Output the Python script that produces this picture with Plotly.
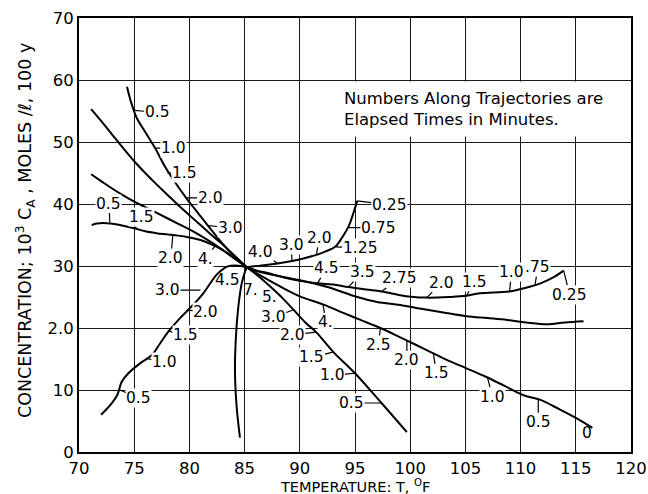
import plotly.graph_objects as go

# Trajectories in the temperature / concentration plane (T in deg F, 10^3 C_A)
traj_1_t = [74.35, 74.7, 75.2, 76.0, 76.9, 77.8, 78.7, 79.7, 80.8, 82.0, 83.3, 84.3, 85.2]
traj_1_c = [58.9, 56.5, 54.0, 51.6, 49.0, 46.0, 43.5, 41.0, 38.5, 35.8, 33.0, 31.2, 29.8]

traj_2_t = [71.1, 72.0, 73.0, 74.0, 75.0, 76.0, 77.0, 78.0, 79.0, 80.0, 81.0, 82.0, 83.0, 84.0, 85.2]
traj_2_c = [55.3, 53.4, 51.2, 49.0, 46.9, 45.0, 43.2, 41.5, 39.8, 38.2, 36.6, 35.0, 33.5, 31.8, 29.8]

traj_3_t = [71.1, 72.0, 73.0, 74.0, 75.0, 76.0, 77.0, 78.0, 79.0, 80.0, 81.0, 82.0, 83.0, 84.0, 85.2]
traj_3_c = [44.8, 43.7, 42.5, 41.4, 40.4, 39.5, 38.6, 37.7, 36.8, 35.9, 34.9, 33.8, 32.6, 31.3, 29.8]

traj_4_t = [71.15, 71.6, 72.2, 73.0, 74.0, 75.0, 76.0, 77.0, 78.0, 79.0, 80.0, 81.0, 82.0, 83.0, 84.0, 85.2]
traj_4_c = [36.6, 36.85, 36.95, 36.8, 36.5, 36.1, 35.6, 35.3, 35.1, 34.9, 34.6, 34.2, 33.5, 32.6, 31.4, 29.8]

traj_5_t = [72.0, 72.96, 73.47, 73.86, 74.47, 75.53, 76.58, 77.34, 78.09, 79.15, 80.05, 81.26, 82.32,
            82.77, 83.4, 84.2, 85.2]
traj_5_c = [6.0, 7.85, 9.2, 11.3, 12.7, 14.3, 15.6, 17.5, 19.4, 21.6, 23.2, 25.6, 28.3, 29.1, 29.9, 30.1, 29.8]

traj_6_t = [84.58, 84.28, 84.13, 84.2, 84.43, 84.74, 85.04, 85.2]
traj_6_c = [2.3, 7.3, 12.7, 18.1, 23.4, 27.2, 29.1, 29.8]

traj_a_t = [85.2, 86.5, 87.5, 88.5, 89.4, 90.5, 91.5, 93.0, 95.0, 97.4, 99.7]
traj_a_c = [29.8, 28.0, 26.4, 24.7, 23.0, 20.9, 19.3, 16.2, 12.7, 7.9, 3.2]

traj_b_t = [85.2, 86.5, 88.0, 90.0, 92.1, 94.0, 95.5, 97.3, 99.1, 100.5, 102.1, 103.5, 105.1, 106.9,
            108.5, 110.2, 111.8, 113.5, 115.0, 116.5]
traj_b_c = [29.8, 28.4, 26.9, 25.1, 23.8, 22.4, 21.3, 20.0, 18.5, 17.3, 15.9, 14.7, 13.5, 12.1,
            10.7, 9.2, 8.4, 6.9, 5.5, 3.9]

traj_c_t = [85.2, 86.5, 88.0, 90.0, 92.5, 95.2, 97.0, 99.1, 101.0, 103.0, 105.1, 107.0, 108.8,
            110.5, 112.4, 114.0, 115.7]
traj_c_c = [29.8, 29.0, 28.4, 27.7, 26.6, 25.0, 24.2, 23.7, 23.1, 22.5, 21.9, 21.6, 21.3,
            20.9, 20.6, 20.9, 21.1]

traj_d_t = [85.2, 86.0, 87.0, 88.5, 90.0, 91.6, 93.0, 94.4, 96.0, 97.4, 99.1, 100.1, 101.5, 103.5,
            105.1, 106.3, 109.0, 110.5, 111.8, 113.0, 113.9]
traj_d_c = [29.8, 29.3, 28.9, 28.2, 27.6, 27.2, 27.0, 26.6, 26.2, 25.9, 25.3, 25.05, 24.9, 25.0,
            25.2, 25.6, 25.9, 26.5, 27.2, 28.2, 29.25]

traj_e_t = [85.2, 86.5, 88.0, 89.3, 90.5, 91.5, 92.4, 93.2, 93.8, 94.4, 94.85, 95.2]
traj_e_c = [29.8, 30.1, 30.4, 30.8, 31.3, 31.8, 32.4, 33.1, 34.5, 36.3, 38.5, 40.5]

trajectories = [
    (traj_1_t, traj_1_c), (traj_2_t, traj_2_c), (traj_3_t, traj_3_c), (traj_4_t, traj_4_c),
    (traj_5_t, traj_5_c), (traj_6_t, traj_6_c), (traj_a_t, traj_a_c), (traj_b_t, traj_b_c),
    (traj_c_t, traj_c_c), (traj_d_t, traj_d_c), (traj_e_t, traj_e_c),
]

# Elapsed-time marks (minutes) and the point of the trajectory they refer to
time_text = ["0.5", "1.0", "1.5", "2.0", "3.0",
             "0.5", "1.5", "2.0", "4.",
             "0.5", "1.0", "1.5", "2.0", "3.0", "4.5",
             "7.",
             "5.", "3.0", "2.0", "1.5", "1.0", "0.5",
             "4.", "2.5", "2.0", "1.5", "1.0", "0.5", "0",
             "4.5", "3.5", "2.75", "2.0", "1.5", "1.0", ".75", "0.25",
             "4.0", "3.0", "2.0", "1.25", "0.75", "0.25"]
time_t = [75.0, 76.9, 78.0, 79.7, 81.7,
          72.8, 75.1, 78.5, 82.3,
          73.7, 76.1, 78.1, 79.75, 81.0, 84.0,
          85.0,
          87.2, 89.4, 91.5, 93.0, 95.0, 97.4,
          92.1, 97.3, 99.7, 102.1, 107.0, 111.6, 116.5,
          91.6, 94.4, 97.4, 101.5, 105.1, 109.0, 111.3, 113.9,
          88.0, 89.3, 91.5, 93.2, 94.4, 95.2]
time_c = [55.1, 49.0, 45.0, 41.0, 36.5,
          36.85, 36.1, 35.0, 33.2,
          10.0, 15.1, 19.5, 22.9, 26.1, 30.1,
          29.0,
          27.0, 22.9, 19.35, 16.1, 12.7, 7.9,
          23.8, 20.0, 18.0, 15.9, 12.0, 8.5, 3.9,
          27.2, 26.6, 25.9, 24.9, 25.2, 25.9, 26.9, 29.25,
          30.4, 30.8, 31.8, 33.1, 36.2, 40.5]

# text offset from the marked point in pixels, and whether a leader line is drawn
label_offsets = [(23, 2, 1), (18, 0, 1), (17, 0, 1), (24, 0, 1), (22, 2, 1),
                 (-1, -20, 1), (6, -11, 1), (-2, 23, 1), (-9, 13, 1),
                 (19, 8, 1), (18, 4, 1), (17, 4, 1), (19, 2, 1), (-33, 0, 1), (-6, 15, 0),
                 (6, 18, 0),
                 (1, 12, 0), (-20, 7, 1), (-24, 3, 1), (-21, 5, 1), (-23, 2, 1), (-30, 0, 1),
                 (3, 18, 1), (-2, 17, 1), (0, 20, 1), (3, 20, 1), (5, 19, 1), (0, 23, 1), (-5, 5, 0),
                 (9, -15, 1), (14, -15, 1), (18, -13, 1), (15, -15, 1), (8, -14, 1), (2, -19, 1),
                 (3, -18, 1), (6, 24, 1),
                 (-17, -12, 1), (-1, -16, 1), (3, -17, 1), (25, 1, 1), (30, 0, 1), (32, 4, 1)]

x_ticks = [70, 75, 80, 85, 90, 95, 100, 105, 110, 115, 120]
x_tick_text = ["70", "75", "80", "85", "90", "95", "100", "105", "110", "115", "120"]
y_ticks = [0, 10, 20, 30, 40, 50, 60, 70]
y_tick_text = ["0", "10", "2.0", "30", "40", "50", "60", "70"]

FONT = "DejaVu Sans"
LABEL_FONT = dict(family=FONT, size=15.5, color="black")

fig = go.Figure()
for t, c in trajectories:
    fig.add_trace(go.Scatter(x=t, y=c, mode="lines", line=dict(color="black", width=2),
                             line_shape="spline", hoverinfo="skip", showlegend=False))

annotations = []
for txt, t, c, (ax, ay, leader) in zip(time_text, time_t, time_c, label_offsets):
    if leader:
        annotations.append(dict(x=t, y=c, xref="x", yref="y", text=txt, showarrow=True,
                                ax=ax, ay=ay, arrowhead=0, arrowwidth=1.2, arrowcolor="black",
                                standoff=0, startstandoff=0, bgcolor="white", borderpad=0,
                                font=LABEL_FONT))
    else:
        annotations.append(dict(x=t, y=c, xref="x", yref="y", text=txt, showarrow=False,
                                xshift=ax, yshift=-ay, font=LABEL_FONT))

annotations.append(dict(x=93.3, y=55.4, xref="x", yref="y", xanchor="left", yanchor="middle",
                        align="left", showarrow=False, bgcolor="white", borderpad=7,
                        text="Numbers Along Trajectories are<br>Elapsed Times in Minutes.",
                        font=dict(family=FONT, size=16.5, color="black")))
annotations.append(dict(x=0, y=0.5, xref="paper", yref="paper", xanchor="center",
                        yanchor="middle", xshift=-54, yshift=4, textangle=-90, showarrow=False,
                        text="CONCENTRATION; 10<sup>3</sup> C<sub>A</sub> , MOLES /ℓ, 100 y",
                        font=dict(family=FONT, size=17.5, color="black")))
annotations.append(dict(x=0.5, y=0, xref="paper", yref="paper", xanchor="center",
                        yanchor="middle", yshift=-33.5, showarrow=False,
                        text="TEMPERATURE: T, <sup>O</sup>F",
                        font=dict(family=FONT, size=14.5, color="black")))

axis_common = dict(showgrid=True, gridcolor="#1a1a1a", gridwidth=1, showline=True,
                   linecolor="black", linewidth=2, mirror=True, ticks="", zeroline=False,
                   automargin=False, tickfont=dict(family=FONT, size=16.5, color="black"))
fig.update_layout(
    width=648, height=494, margin=dict(l=79, r=17, t=18, b=42),
    paper_bgcolor="white", plot_bgcolor="white",
    xaxis=dict(range=[70, 120], tickvals=x_ticks, ticktext=x_tick_text, **axis_common),
    yaxis=dict(range=[0, 70], tickvals=y_ticks, ticktext=y_tick_text, **axis_common),
    annotations=annotations,
)
fig.write_html("out.html")
